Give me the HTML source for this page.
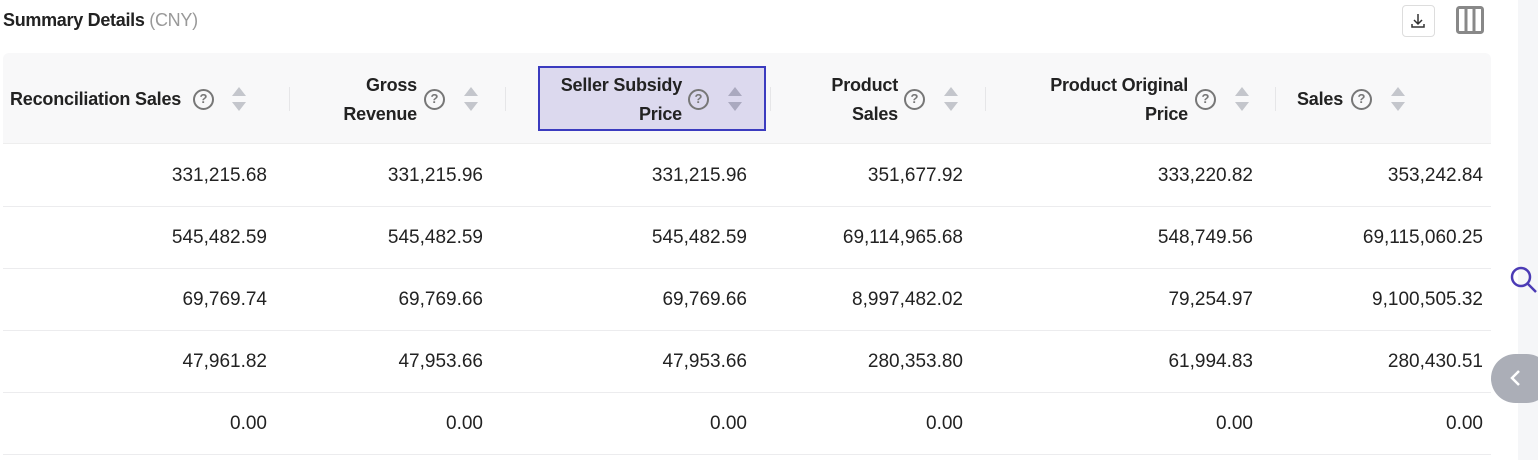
<!DOCTYPE html>
<html><head><style>
*{margin:0;padding:0;box-sizing:border-box}
body{width:1538px;height:460px;background:#fff;font-family:"Liberation Sans",sans-serif;color:#222;position:relative;overflow:hidden}
.a{position:absolute}
.title{left:3px;top:10px;font-size:18px;font-weight:bold;color:#222;letter-spacing:-0.3px}
.title span{font-weight:normal;color:#999}
.hdr{left:3px;top:53px;width:1488px;height:91px;background:#f8f8f9;border-radius:6px 6px 0 0;border-bottom:1px solid #eee}
.h{font-size:18px;font-weight:bold;color:#222;line-height:29px;text-align:right;letter-spacing:-0.2px}
.q{width:21px;height:21px;border:2.5px solid #777;border-radius:50%;font-size:13px;font-weight:bold;color:#777;text-align:center;line-height:16px}
.s{width:16px;height:26px}
.v{font-size:19px;color:#222;text-align:right;width:220px}
.line{left:3px;width:1488px;height:1px;background:#ececee}
.sep{width:1px;height:24px;background:#e6e6e8;top:87px}
</style></head><body>
<div class="a title">Summary Details <span>(CNY)</span></div>
<div class="a" style="left:1402px;top:5px;width:33px;height:32px;border:1px solid #ddd;border-radius:4px"></div>
<svg class="a" style="left:1408px;top:11px" width="20" height="20"><path d="M10 3v10M6 9l4 4 4-4M4 13v3h12v-3" stroke="#333" stroke-width="1.5" fill="none"/></svg>
<svg class="a" style="left:1456px;top:6px" width="28" height="28"><rect x="1.5" y="1.5" width="25" height="25" rx="2" fill="none" stroke="#888" stroke-width="3"/><path d="M10 2v24M18 2v24" stroke="#888" stroke-width="3"/></svg>
<div class="a" style="left:1518px;top:0;width:20px;height:460px;background:#f5f6f8"></div>
<svg class="a" style="left:1508px;top:264px" width="30" height="32"><circle cx="13" cy="13" r="9" stroke="#4b3bb5" stroke-width="2.5" fill="none"/><path d="M20 20l8 8" stroke="#4b3bb5" stroke-width="2.5"/></svg>
<div class="a" style="left:1491px;top:354px;width:60px;height:49px;background:#abaeb7;border-radius:25px"></div>
<svg class="a" style="left:1508px;top:368px" width="14" height="20"><path d="M11 3L4 10l7 7" stroke="#fff" stroke-width="2.5" fill="none"/></svg>

<div class="a hdr"></div>
<div class="a" style="left:538px;top:66px;width:228px;height:65px;background:#dcd9ee;border:2px solid #3b3bbf"></div>
<div class="a sep" style="left:289px"></div><div class="a sep" style="left:505px"></div><div class="a sep" style="left:770px"></div><div class="a sep" style="left:985px"></div><div class="a sep" style="left:1275px"></div>

<div class="a h" style="left:10px;top:85px;text-align:left">Reconciliation Sales</div>
<div class="a q" style="left:193px;top:89px">?</div>
<svg class="a s" style="left:231px;top:86px"><path d="M8 1l7 9H1zM8 25l7-9H1z" fill="#c4c6cc"/></svg>

<div class="a h" style="left:300px;top:71px;width:117px">Gross<br>Revenue</div>
<div class="a q" style="left:424px;top:89px">?</div>
<svg class="a s" style="left:463px;top:86px"><path d="M8 1l7 9H1zM8 25l7-9H1z" fill="#c4c6cc"/></svg>

<div class="a h" style="left:510px;top:71px;width:172px">Seller Subsidy<br>Price</div>
<div class="a q" style="left:688px;top:89px">?</div>
<svg class="a s" style="left:727px;top:86px"><path d="M8 1l7 9H1zM8 25l7-9H1z" fill="#aaa9bf"/></svg>

<div class="a h" style="left:780px;top:71px;width:118px">Product<br>Sales</div>
<div class="a q" style="left:904px;top:89px">?</div>
<svg class="a s" style="left:943px;top:86px"><path d="M8 1l7 9H1zM8 25l7-9H1z" fill="#c4c6cc"/></svg>

<div class="a h" style="left:990px;top:71px;width:198px">Product Original<br>Price</div>
<div class="a q" style="left:1195px;top:89px">?</div>
<svg class="a s" style="left:1234px;top:86px"><path d="M8 1l7 9H1zM8 25l7-9H1z" fill="#c4c6cc"/></svg>

<div class="a h" style="left:1297px;top:85px;text-align:left">Sales</div>
<div class="a q" style="left:1351px;top:89px">?</div>
<svg class="a s" style="left:1390px;top:86px"><path d="M8 1l7 9H1zM8 25l7-9H1z" fill="#c4c6cc"/></svg>

<div class="a line" style="top:206px"></div><div class="a line" style="top:268px"></div><div class="a line" style="top:330px"></div><div class="a line" style="top:392px"></div><div class="a line" style="top:454px"></div>

<div class="a v" style="left:47px;top:165px">331,215.68</div><div class="a v" style="left:263px;top:165px">331,215.96</div><div class="a v" style="left:527px;top:165px">331,215.96</div><div class="a v" style="left:743px;top:165px">351,677.92</div><div class="a v" style="left:1033px;top:165px">333,220.82</div><div class="a v" style="left:1263px;top:165px">353,242.84</div>
<div class="a v" style="left:47px;top:227px">545,482.59</div><div class="a v" style="left:263px;top:227px">545,482.59</div><div class="a v" style="left:527px;top:227px">545,482.59</div><div class="a v" style="left:743px;top:227px">69,114,965.68</div><div class="a v" style="left:1033px;top:227px">548,749.56</div><div class="a v" style="left:1263px;top:227px">69,115,060.25</div>
<div class="a v" style="left:47px;top:289px">69,769.74</div><div class="a v" style="left:263px;top:289px">69,769.66</div><div class="a v" style="left:527px;top:289px">69,769.66</div><div class="a v" style="left:743px;top:289px">8,997,482.02</div><div class="a v" style="left:1033px;top:289px">79,254.97</div><div class="a v" style="left:1263px;top:289px">9,100,505.32</div>
<div class="a v" style="left:47px;top:351px">47,961.82</div><div class="a v" style="left:263px;top:351px">47,953.66</div><div class="a v" style="left:527px;top:351px">47,953.66</div><div class="a v" style="left:743px;top:351px">280,353.80</div><div class="a v" style="left:1033px;top:351px">61,994.83</div><div class="a v" style="left:1263px;top:351px">280,430.51</div>
<div class="a v" style="left:47px;top:413px">0.00</div><div class="a v" style="left:263px;top:413px">0.00</div><div class="a v" style="left:527px;top:413px">0.00</div><div class="a v" style="left:743px;top:413px">0.00</div><div class="a v" style="left:1033px;top:413px">0.00</div><div class="a v" style="left:1263px;top:413px">0.00</div>
</body></html>
